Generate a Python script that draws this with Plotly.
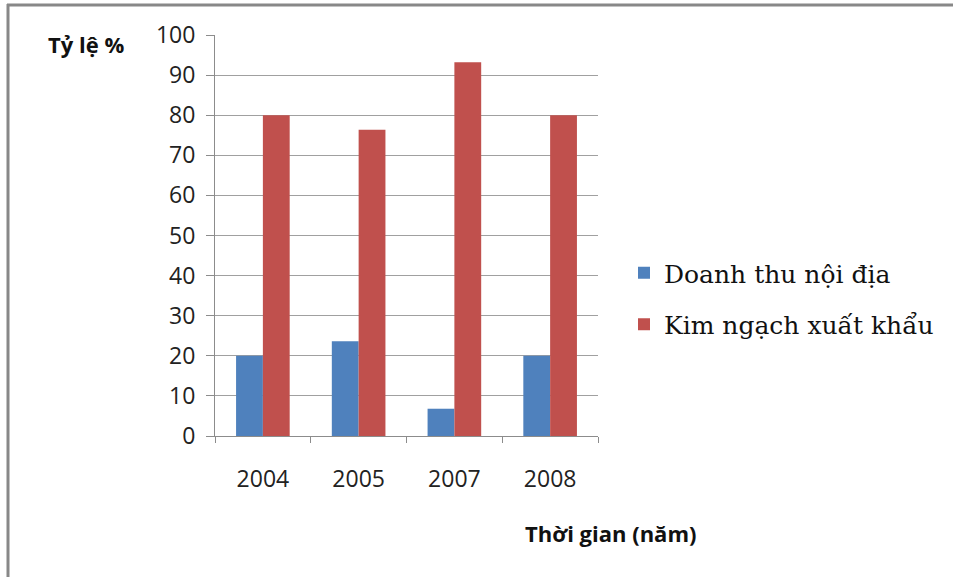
import plotly.graph_objects as go

years = ["2004", "2005", "2007", "2008"]
doanh_thu = [20.0, 23.6, 6.8, 20.0]
kim_ngach = [80.0, 76.4, 93.2, 80.0]
series_names = ["Doanh thu nội địa", "Kim ngạch xuất khẩu"]
y_ticks = [0, 10, 20, 30, 40, 50, 60, 70, 80, 90, 100]

W, H = 953, 577
L, R, T, B = 215, 355, 35, 141
pw, ph = W - L - R, H - T - B

def px(x):
    return (x - L) / pw

def py(y):
    return (H - B - y) / ph

fig = go.Figure()
fig.add_trace(go.Bar(x=years, y=doanh_thu, name=series_names[0],
                     marker=dict(color="#4F81BD", line=dict(width=0)),
                     legendgroup="a"))
fig.add_trace(go.Bar(x=years, y=kim_ngach, name=series_names[1],
                     marker=dict(color="#C0504D", line=dict(width=0)),
                     legendgroup="b"))

grid = "#8c8c8c"
fig.update_layout(
    width=W, height=H,
    margin=dict(l=L, r=R, t=T, b=B),
    paper_bgcolor="white", plot_bgcolor="white",
    barmode="group", bargap=0.44, bargroupgap=0,
    font=dict(family="Open Sans", color="#222222"),
    xaxis=dict(type="category", showline=True, linecolor=grid, linewidth=1,
               ticks="outside", tickson="boundaries", ticklen=6, tickcolor=grid,
               tickfont=dict(size=23, family="Open Sans", color="#222"),
               ticklabelstandoff=22, showgrid=False),
    yaxis=dict(range=[0, 100], tickvals=y_ticks, showline=True, linecolor=grid,
               linewidth=1, ticks="outside", ticklen=8, tickcolor=grid,
               showgrid=True, gridcolor="#a0a0a0", gridwidth=1,
               tickfont=dict(size=23, family="Open Sans", color="#222"),
               ticklabelstandoff=6, zeroline=False),
    showlegend=True,
    legend=dict(x=px(624), y=py(250), xanchor="left", yanchor="top",
                font=dict(family="DejaVu Serif", size=25, color="#111"),
                traceorder="grouped", tracegroupgap=16,
                bgcolor="rgba(0,0,0,0)"),
    annotations=[
        dict(text="<b>Tỷ lệ %</b>", xref="paper", yref="paper",
             x=px(86), y=py(44), xanchor="center", yanchor="middle",
             showarrow=False, font=dict(size=22, family="Open Sans", color="#111")),
        dict(text="<b>Thời gian (năm)</b>", xref="paper", yref="paper",
             x=px(610), y=py(533), xanchor="center", yanchor="middle",
             showarrow=False, font=dict(size=22, family="Open Sans", color="#111")),
    ],
    shapes=[
        dict(type="line", xref="paper", yref="paper", x0=px(8), x1=px(8),
             y0=py(H + 5), y1=py(4), line=dict(color="#888888", width=3)),
        dict(type="line", xref="paper", yref="paper", x0=px(7), x1=px(W + 5),
             y0=py(5), y1=py(5), line=dict(color="#888888", width=3)),
    ],
)

fig.write_html("out.html", config={"displayModeBar": False},
               post_script="document.body.style.margin='0';document.body.style.overflow='hidden';")
